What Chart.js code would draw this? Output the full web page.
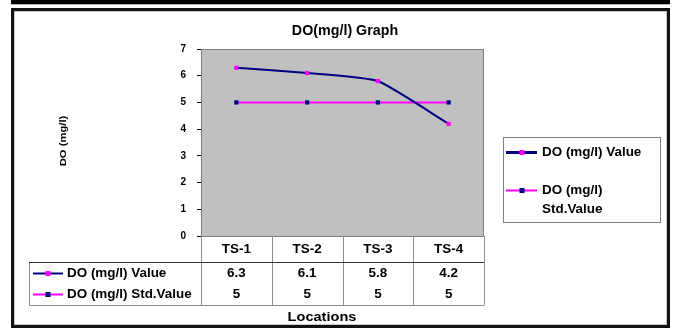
<!DOCTYPE html>
<html>
<head>
<meta charset="utf-8">
<script src="https://cdn.jsdelivr.net/npm/chart.js@4"></script>
<style>
  html, body { margin: 0; padding: 0; background: #fff; }
  canvas { display: block; }
</style>
</head>
<body>
<canvas id="chart" width="678" height="329"></canvas>
<script>
const locations = ['TS-1', 'TS-2', 'TS-3', 'TS-4']
const doValue = [6.3, 6.1, 5.8, 4.2]
const doStdValue = [5, 5, 5, 5]
const seriesNames = ['DO (mg/l) Value', 'DO (mg/l) Std.Value']
const yTicks = [0, 1, 2, 3, 4, 5, 6, 7]

const NAVY = '#000080'
const PINK = '#ff00ff'
const FONT = '"Liberation Sans", Arial, sans-serif'
const WIDE = 1.12

function text(ctx, str, x, y, size, align, stretch) {
  ctx.save()
  ctx.font = 'bold ' + size + 'px ' + FONT
  ctx.fillStyle = '#000'
  ctx.textBaseline = 'middle'
  ctx.textAlign = align || 'left'
  ctx.translate(x, y)
  ctx.scale(stretch || 1, 1)
  ctx.fillText(str, 0, 0)
  ctx.restore()
}

function textWidth(ctx, str, size, stretch) {
  ctx.save()
  ctx.font = 'bold ' + size + 'px ' + FONT
  const w = ctx.measureText(str).width * (stretch || 1)
  ctx.restore()
  return w
}

// line sample with a square marker in the middle
function key(ctx, x1, x2, y, lineColor, markColor, lw) {
  ctx.save()
  ctx.strokeStyle = lineColor
  ctx.lineWidth = lw
  ctx.beginPath()
  ctx.moveTo(x1, y)
  ctx.lineTo(x2, y)
  ctx.stroke()
  ctx.fillStyle = markColor
  const m = Math.round((x1 + x2) / 2)
  ctx.fillRect(m - 2.5, y - 2.5, 5, 5)
  ctx.restore()
}

function hline(ctx, x1, x2, y, color) {
  ctx.strokeStyle = color
  ctx.beginPath()
  ctx.moveTo(x1, y + 0.5)
  ctx.lineTo(x2, y + 0.5)
  ctx.stroke()
}

function vline(ctx, x, y1, y2, color) {
  ctx.strokeStyle = color
  ctx.beginPath()
  ctx.moveTo(x + 0.5, y1)
  ctx.lineTo(x + 0.5, y2)
  ctx.stroke()
}

function wrap(ctx, str, maxW, size, stretch) {
  const words = str.split(' ')
  const lines = []
  let cur = ''
  for (const w of words) {
    const t = cur ? cur + ' ' + w : w
    if (cur && textWidth(ctx, t, size, stretch) > maxW) {
      lines.push(cur)
      cur = w
    } else {
      cur = t
    }
  }
  if (cur) lines.push(cur)
  return lines
}

const sheet = {
  id: 'sheet',
  beforeDraw(chart) {
    const { ctx, chartArea: a } = chart
    ctx.save()
    ctx.fillStyle = '#fff'
    ctx.fillRect(0, 0, chart.width, chart.height)
    ctx.fillStyle = '#c0c0c0'
    ctx.fillRect(a.left, a.top, a.right - a.left, a.bottom - a.top)
    ctx.strokeStyle = '#808080'
    ctx.lineWidth = 1
    ctx.strokeRect(a.left + 0.5, a.top + 0.5, a.right - a.left - 1, a.bottom - a.top)
    ctx.restore()
  },
  afterDraw(chart) {
    const { ctx, chartArea: a } = chart
    const xs = chart.scales.x
    const n = locations.length
    const colW = (a.right - a.left) / n
    const headTop = a.bottom
    const headBot = a.bottom + 26
    const rowH = 21.5
    const tableLeft = 29
    const tableBot = Math.round(headBot + rowH * 2)

    ctx.save()
    ctx.lineWidth = 1

    // data table under the plot
    for (let k = 0; k <= n; k++) {
      vline(ctx, Math.round(a.left + k * colW), headTop, tableBot, '#909090')
    }
    vline(ctx, tableLeft, headBot, tableBot, '#909090')
    hline(ctx, tableLeft, a.right, headBot, '#303030')
    hline(ctx, tableLeft, a.right, tableBot, '#909090')

    const rows = [
      { name: seriesNames[0], data: doValue, line: NAVY, mark: PINK },
      { name: seriesNames[1], data: doStdValue, line: PINK, mark: NAVY }
    ]
    locations.forEach((loc, i) => {
      text(ctx, loc, xs.getPixelForValue(i), headTop + 14, 12, 'center', WIDE)
    })
    rows.forEach((r, j) => {
      const y = Math.round(headBot + rowH * (j + 0.5)) + 0.5
      key(ctx, 33, 63, y, r.line, r.mark, 2)
      text(ctx, r.name, 67, y, 12, 'left', WIDE)
      r.data.forEach((v, i) => {
        text(ctx, String(v), xs.getPixelForValue(i), y, 12, 'center', WIDE)
      })
    })

    text(ctx, 'Locations', 322, 317, 13, 'center', WIDE)

    // legend box
    ctx.strokeStyle = '#808080'
    ctx.strokeRect(503.5, 137.5, 157, 85)
    const lx = 542
    let ly = 152.5
    rows.forEach((r, j) => {
      key(ctx, 506, 537, ly, r.line, r.mark, j === 0 ? 3 : 2)
      const lines = wrap(ctx, r.name, 660 - lx - 3, 12, WIDE)
      lines.forEach((l, k) => text(ctx, l, lx, ly + k * 19, 12, 'left', WIDE))
      ly += 38
    })

    // titles
    text(ctx, 'DO(mg/l) Graph', 345, 31, 14, 'center', 1.02)
    ctx.save()
    ctx.translate(64, 141)
    ctx.rotate(-Math.PI / 2)
    text(ctx, 'DO (mg/l)', 0, 0, 9, 'center', 1.25)
    ctx.restore()

    // outer frame and top rule
    ctx.fillStyle = '#000'
    ctx.fillRect(11, 0, 659, 4)
    ctx.fillStyle = '#b0b0b0'
    ctx.fillRect(11, 4, 659, 1)
    ctx.strokeStyle = '#111'
    ctx.lineWidth = 3
    ctx.strokeRect(12.5, 9.5, 656, 317)
    ctx.strokeStyle = '#c8c8c8'
    ctx.lineWidth = 1
    ctx.strokeRect(14.5, 11.5, 652, 313)
    ctx.restore()
  }
}

new Chart(document.getElementById('chart'), {
  type: 'line',
  data: {
    labels: locations,
    datasets: [
      {
        label: seriesNames[0],
        data: doValue,
        borderColor: NAVY,
        borderWidth: 2,
        pointStyle: 'rect',
        pointRadius: 3,
        pointBackgroundColor: PINK,
        pointBorderColor: PINK,
        pointBorderWidth: 0,
        tension: 0.15
      },
      {
        label: seriesNames[1],
        data: doStdValue,
        borderColor: PINK,
        borderWidth: 2,
        pointStyle: 'rect',
        pointRadius: 3,
        pointBackgroundColor: NAVY,
        pointBorderColor: NAVY,
        pointBorderWidth: 0,
        tension: 0
      }
    ]
  },
  options: {
    responsive: false,
    animation: false,
    devicePixelRatio: 1,
    layout: { padding: { left: 141, right: 194, top: 49, bottom: 93 } },
    plugins: {
      legend: { display: false },
      tooltip: { enabled: false }
    },
    scales: {
      x: { display: false, offset: true },
      y: {
        min: 0,
        max: 7,
        afterBuildTicks: scale => { scale.ticks = yTicks.map(v => ({ value: v })) },
        afterFit: scale => { scale.width = 60 },
        ticks: { color: '#000', font: { family: FONT, size: 10, weight: 'bold' }, padding: 11 },
        grid: { drawOnChartArea: false, tickLength: 4, color: '#000' },
        border: { color: '#808080' }
      }
    }
  },
  plugins: [sheet]
})
</script>
</body>
</html>
